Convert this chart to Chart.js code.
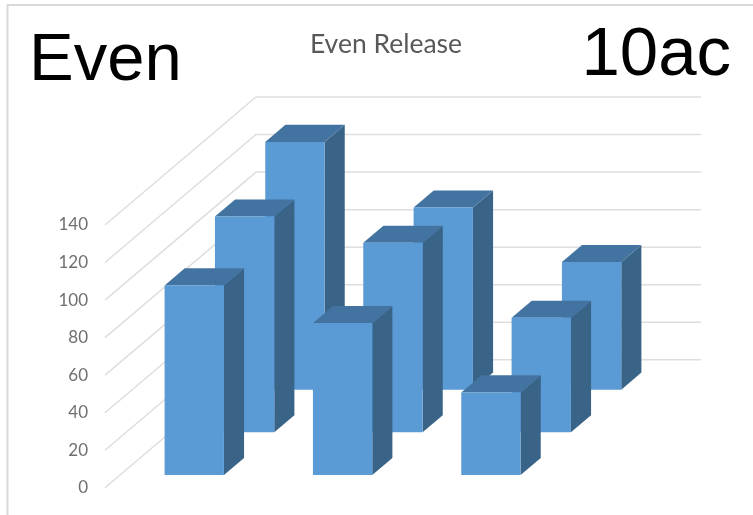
<!DOCTYPE html>
<html>
<head>
<meta charset="utf-8">
<title>Even Release</title>
<script src="https://cdn.jsdelivr.net/npm/chart.js@4"></script>
<style>
  html, body { margin: 0; padding: 0; background: #fff; }
  canvas { display: block; }
</style>
</head>
<body>
<canvas id="myChart" width="753" height="515"></canvas>
<script>
let columns = ['1', '2', '3'];
let frontRow = [101, 81, 44];
let middleRow = [115, 101, 61];
let backRow = [132, 97, 68];
let yTicks = [0, 20, 40, 60, 80, 100, 120, 140];

let chartTitle = 'Even Release';
let cornerLeft = 'Even';
let cornerRight = '10ac';

// oblique projection of the floor: how far the back wall sits from the front edge
let wallDx = 151;
let wallDy = 128;
let rowCount = 3;
let barDepth = 0.4;

let frontColor = '#5b9bd5';
let sideColor = '#396387';
let topColor = '#4374a1';
let gridColor = '#dedede';

function poly(ctx, color, pts) {
  ctx.fillStyle = color;
  ctx.beginPath();
  ctx.moveTo(pts[0][0], pts[0][1]);
  for (let i = 1; i < pts.length; i++) {
    ctx.lineTo(pts[i][0], pts[i][1]);
  }
  ctx.closePath();
  ctx.fill();
}

// side wall and back wall lines, one pair for each tick of the y axis
let wallPlugin = {
  id: 'wall',
  beforeDatasetsDraw(chart) {
    let ctx = chart.ctx;
    let area = chart.chartArea;
    let yScale = chart.scales.y;
    ctx.save();
    ctx.strokeStyle = gridColor;
    ctx.lineWidth = 1.5;
    yScale.ticks.forEach(function (tick) {
      let y = yScale.getPixelForValue(tick.value);
      ctx.beginPath();
      ctx.moveTo(area.left, y);
      ctx.lineTo(area.left + wallDx, y - wallDy);
      ctx.lineTo(area.right + wallDx, y - wallDy);
      ctx.stroke();
    });
    ctx.restore();
  }
};

// replaces the flat bars with boxes pushed back along the floor, one row per dataset
let boxPlugin = {
  id: 'box',
  beforeDatasetDraw(chart, args) {
    let ctx = chart.ctx;
    let stepX = wallDx / rowCount;
    let stepY = wallDy / rowCount;
    let dx = stepX * barDepth;
    let dy = stepY * barDepth;
    let shiftX = args.index * stepX + (stepX - dx) / 2;
    let shiftY = args.index * stepY + (stepY - dy) / 2;

    args.meta.data.forEach(function (bar) {
      let p = bar.getProps(['x', 'y', 'base', 'width'], true);
      let x1 = p.x - p.width / 2 + shiftX;
      let x2 = p.x + p.width / 2 + shiftX;
      let top = p.y - shiftY;
      let base = p.base - shiftY;

      poly(ctx, sideColor, [[x2, top], [x2 + dx, top - dy], [x2 + dx, base - dy], [x2, base]]);
      poly(ctx, topColor, [[x1, top], [x1 + dx, top - dy], [x2 + dx, top - dy], [x2, top]]);
      poly(ctx, frontColor, [[x1, top], [x2, top], [x2, base], [x1, base]]);
    });
    return false;
  }
};

// outer frame, chart title and the two big corner labels
let textPlugin = {
  id: 'frameText',
  afterDraw(chart) {
    let ctx = chart.ctx;
    ctx.save();
    ctx.strokeStyle = '#d9d9d9';
    ctx.lineWidth = 2;
    ctx.beginPath();
    ctx.moveTo(7.5, 515);
    ctx.lineTo(7.5, 5);
    ctx.lineTo(753, 5);
    ctx.stroke();

    ctx.textBaseline = 'alphabetic';
    ctx.fillStyle = '#595959';
    ctx.font = '26.5px Lato';
    ctx.textAlign = 'center';
    ctx.fillText(chartTitle, 386, 53);

    ctx.fillStyle = '#000000';
    ctx.font = '67px "Liberation Sans"';
    ctx.textAlign = 'left';
    ctx.fillText(cornerLeft, 29, 80);
    ctx.font = '69px "Liberation Sans"';
    ctx.textAlign = 'right';
    ctx.fillText(cornerRight, 731, 75);
    ctx.restore();
  }
};

let canvas = document.getElementById('myChart');
let ctx = canvas.getContext('2d');

let myChart = new Chart(ctx, {
  type: 'bar',
  data: {
    labels: columns,
    // first dataset is painted last, so the front row goes first
    datasets: [
      { label: 'Front', data: frontRow, backgroundColor: frontColor },
      { label: 'Middle', data: middleRow, backgroundColor: frontColor },
      { label: 'Back', data: backRow, backgroundColor: frontColor }
    ]
  },
  plugins: [wallPlugin, boxPlugin, textPlugin],
  options: {
    responsive: false,
    animation: false,
    layout: {
      padding: { left: 0, right: 203, top: 225, bottom: 26 }
    },
    plugins: {
      legend: { display: false },
      title: { display: false },
      tooltip: { enabled: false }
    },
    datasets: {
      bar: {
        grouped: false,
        categoryPercentage: 1,
        barPercentage: 0.4
      }
    },
    scales: {
      x: { display: false },
      y: {
        min: 0,
        max: 140,
        afterFit(scale) { scale.width = 105; },
        afterBuildTicks(scale) {
          scale.ticks = yTicks.map(function (v) { return { value: v }; });
        },
        grid: { display: false, drawTicks: false },
        border: { display: false },
        ticks: {
          padding: 17,
          color: '#6f6f6f',
          font: { family: 'Lato', size: 17 }
        }
      }
    }
  }
});
</script>
</body>
</html>
